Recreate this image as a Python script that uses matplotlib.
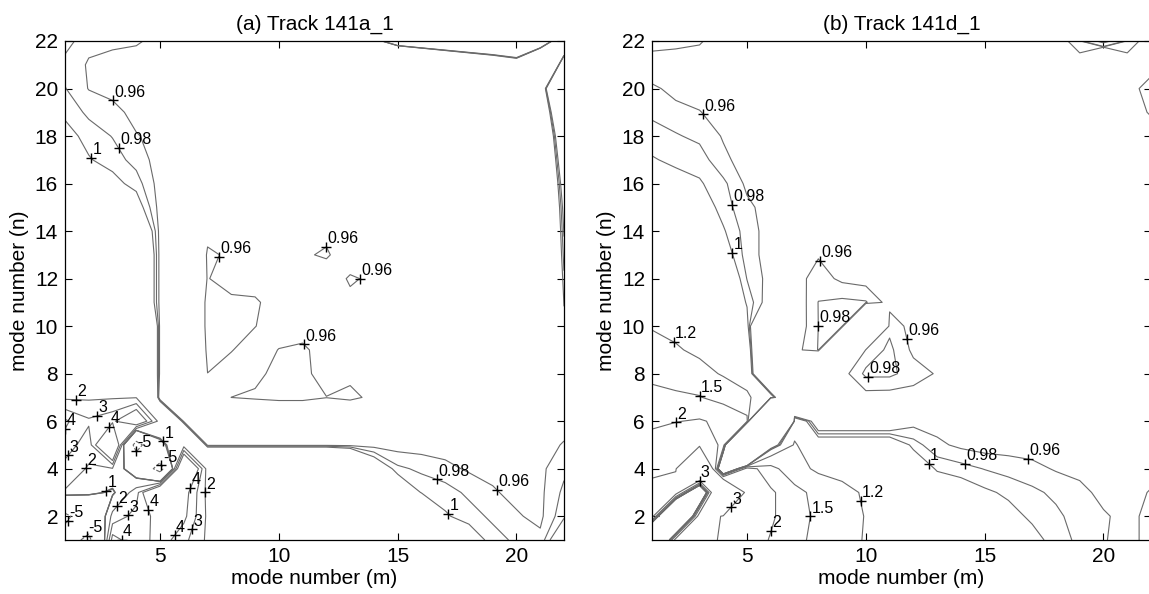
import numpy as np
import matplotlib
matplotlib.use("Agg")
import matplotlib.pyplot as plt

plt.rcParams["font.family"] = ["Liberation Sans", "DejaVu Sans"]

# ---------------------------------------------------------------- data
mode_m = np.arange(1, 23)
mode_n = np.arange(1, 23)

levels_a = [-5, 0.96, 0.98, 1, 2, 3, 4]
levels_b = [0.96, 0.98, 1, 1.2, 1.5, 2, 3]

# ratio grid, track 141a_1 : one row per n, from n = 22 (top) down to n = 1
ratio_a = [
    [0.99, 0.965, 0.963, 0.962, 0.955, 0.95, 0.95, 0.95, 0.95, 0.95, 0.95, 0.95, 0.95, 0.5, 1.9, 1.9, 1.9, 1.9, 1.9, 1.9, 1.9, 0.02],
    [0.972, 0.958, 0.955, 0.952, 0.95, 0.95, 0.95, 0.95, 0.95, 0.95, 0.95, 0.95, 0.95, 0.95, -2.8, -1.23, -0.45, 0.02, 0.33, 0.61, -1.23, 1.587],
    [0.981, 0.959, 0.955, 0.952, 0.95, 0.95, 0.95, 0.95, 0.95, 0.95, 0.95, 0.95, 0.95, 0.95, 0.95, 0.95, 0.95, 0.95, 0.95, 0.95, 0.7, 1.9],
    [0.995, 0.975, 0.965, 0.955, 0.95, 0.95, 0.95, 0.95, 0.95, 0.95, 0.95, 0.95, 0.95, 0.95, 0.95, 0.95, 0.95, 0.95, 0.95, 0.95, 0.7, 1.35],
    [1.01, 0.992, 0.979, 0.961, 0.955, 0.95, 0.95, 0.95, 0.95, 0.95, 0.95, 0.95, 0.95, 0.95, 0.95, 0.95, 0.95, 0.95, 0.95, 0.95, 0.7, 1.17],
    [1.03, 1.002, 0.99, 0.972, 0.95, 0.95, 0.95, 0.95, 0.95, 0.95, 0.95, 0.95, 0.95, 0.95, 0.95, 0.95, 0.95, 0.95, 0.95, 0.95, 0.7, 1.1],
    [1.05, 1.03, 1.01, 0.99, 0.95, 0.95, 0.95, 0.95, 0.95, 0.95, 0.95, 0.95, 0.95, 0.95, 0.95, 0.95, 0.95, 0.95, 0.95, 0.95, 0.7, 1.05],
    [1.1, 1.07, 1.05, 1.02, 0.95, 0.95, 0.95, 0.95, 0.95, 0.95, 0.95, 0.95, 0.95, 0.95, 0.95, 0.95, 0.95, 0.95, 0.95, 0.95, 0.7, 1.02],
    [1.15, 1.12, 1.1, 1.1, 0.95, 0.95, 0.956, 0.95, 0.95, 0.95, 0.95, 0.956, 0.95, 0.95, 0.95, 0.95, 0.95, 0.95, 0.95, 0.95, 0.7, 1.003],
    [1.2, 1.2, 1.2, 1.15, 0.95, 0.92, 0.962, 0.958, 0.95, 0.95, 0.958, 0.962, 0.95, 0.95, 0.95, 0.95, 0.95, 0.95, 0.95, 0.95, 0.7, 0.99],
    [1.25, 1.25, 1.2, 1.15, 0.95, 0.92, 0.961, 0.95, 0.95, 0.95, 0.95, 0.95, 0.962, 0.957, 0.95, 0.95, 0.95, 0.95, 0.95, 0.95, 0.7, 0.975],
    [1.3, 1.3, 1.25, 1.15, 0.95, 0.92, 0.965, 0.965, 0.963, 0.95, 0.95, 0.95, 0.956, 0.95, 0.95, 0.95, 0.95, 0.95, 0.95, 0.95, 0.7, 0.962],
    [1.35, 1.35, 1.3, 1.4, 0.95, 0.92, 0.965, 0.965, 0.9605, 0.95, 0.95, 0.95, 0.95, 0.95, 0.95, 0.95, 0.95, 0.95, 0.95, 0.95, 0.8, 0.95],
    [1.4, 1.4, 1.35, 1.4, 0.95, 0.92, 0.963, 0.961, 0.95, 0.9606, 0.964, 0.95, 0.95, 0.95, 0.95, 0.95, 0.95, 0.95, 0.95, 0.95, 0.95, 0.95],
    [1.5, 1.5, 1.45, 1.4, 0.95, 0.92, 0.9599, 0.95, 0.955, 0.966, 0.966, 0.95, 0.955, 0.95, 0.95, 0.95, 0.95, 0.95, 0.95, 0.95, 0.95, 0.95],
    [1.81, 1.85, 1.9, 1.95, 0.9, 0.95, 0.95, 0.9601, 0.963, 0.966, 0.966, 0.9605, 0.965, 0.955, 0.95, 0.95, 0.95, 0.95, 0.95, 0.95, 0.95, 0.95],
    [4.19, 3.16, 3.73, 6.0, 1.5, 0.95, 0.92, 0.92, 0.92, 0.92, 0.92, 0.92, 0.92, 0.92, 0.95, 0.95, 0.95, 0.95, 0.95, 0.95, 0.95, 0.95],
    [3.6, 2.4, 8.0, -7.0, 0.8, 1.5, 0.95, 0.95, 0.95, 0.95, 0.95, 0.95, 0.95, 0.95, 0.95, 0.95, 0.95, 0.95, 0.95, 0.95, 0.95, 0.962],
    [2.6, 1.9, 1.9, 0.0, -7.0, 8.0, 1.5, 1.5, 1.5, 1.5, 1.5, 1.5, 1.3, 1.05, 0.985, 0.975, 0.966, 0.957, 0.955, 0.955, 0.955, 0.975],
    [1.9, 1.3, 0.8, 2.5, 8.0, 4.6, 1.7, 1.5, 1.5, 1.5, 1.5, 1.5, 1.5, 1.5, 1.05, 0.998, 0.99, 0.975, 0.962, 0.955, 0.955, 0.985],
    [-6.0, -2.0, 2.3, 3.4, 4.4, 4.3, 1.8, 1.5, 1.5, 1.5, 1.5, 1.5, 1.5, 1.5, 1.5, 1.1, 1.003, 0.99, 0.975, 0.962, 0.955, 0.995],
    [-3.0, -6.0, 4.5, 3.2, 4.6, 3.3, 1.8, 1.5, 1.5, 1.5, 1.5, 1.5, 1.5, 1.5, 1.5, 1.5, 1.1, 1.02, 0.99, 0.975, 0.965, 1.05],
]

# ratio grid, track 141d_1 : one row per n, from n = 22 (top) down to n = 1
ratio_b = [
    [0.975, 0.965, 0.962, 0.95, 0.95, 0.95, 0.95, 0.95, 0.95, 0.95, 0.95, 0.95, 0.95, 0.95, 0.95, 0.95, 0.95, 0.95, 0.97, 1.3, 0.97, 0.95],
    [0.94, 0.95, 0.95, 0.95, 0.95, 0.95, 0.95, 0.95, 0.95, 0.95, 0.95, 0.95, 0.95, 0.95, 0.95, 0.95, 0.95, 0.95, 0.95, 0.0, 0.95, 0.95],
    [0.965, 0.952, 0.95, 0.95, 0.95, 0.95, 0.95, 0.95, 0.95, 0.95, 0.95, 0.95, 0.95, 0.95, 0.95, 0.95, 0.95, 0.95, 0.95, 0.95, 0.95, 0.97],
    [0.975, 0.968, 0.961, 0.95, 0.95, 0.95, 0.95, 0.95, 0.95, 0.95, 0.95, 0.95, 0.95, 0.95, 0.95, 0.95, 0.95, 0.95, 0.95, 0.95, 0.95, 0.962],
    [0.99, 0.982, 0.975, 0.958, 0.95, 0.95, 0.95, 0.95, 0.95, 0.95, 0.95, 0.95, 0.95, 0.95, 0.95, 0.95, 0.95, 0.95, 0.95, 0.95, 0.95, 0.95],
    [1.002, 0.995, 0.99, 0.965, 0.95, 0.95, 0.95, 0.95, 0.95, 0.95, 0.95, 0.95, 0.95, 0.95, 0.95, 0.95, 0.95, 0.95, 0.95, 0.95, 0.95, 0.95],
    [1.02, 1.01, 1.003, 0.985, 0.955, 0.95, 0.95, 0.95, 0.95, 0.95, 0.95, 0.95, 0.95, 0.95, 0.95, 0.95, 0.95, 0.95, 0.95, 0.95, 0.95, 0.95],
    [1.04, 1.03, 1.02, 0.99, 0.965, 0.95, 0.95, 0.95, 0.95, 0.95, 0.95, 0.95, 0.95, 0.95, 0.95, 0.95, 0.95, 0.95, 0.95, 0.95, 0.95, 0.95],
    [1.06, 1.05, 1.04, 1.003, 0.97, 0.95, 0.95, 0.95, 0.95, 0.95, 0.95, 0.95, 0.95, 0.95, 0.95, 0.95, 0.95, 0.95, 0.95, 0.95, 0.95, 0.95],
    [1.08, 1.07, 1.06, 1.02, 0.97, 0.95, 0.95, 0.958, 0.95, 0.95, 0.95, 0.95, 0.95, 0.95, 0.95, 0.95, 0.95, 0.95, 0.95, 0.95, 0.95, 0.95],
    [1.1, 1.09, 1.08, 1.05, 0.979, 0.95, 0.95, 0.97, 0.955, 0.95, 0.95, 0.95, 0.95, 0.95, 0.95, 0.95, 0.95, 0.95, 0.95, 0.95, 0.95, 0.95],
    [1.12, 1.11, 1.1, 1.08, 0.995, 0.94, 0.94, 0.9805, 0.985, 0.982, 0.95, 0.95, 0.95, 0.95, 0.95, 0.95, 0.95, 0.95, 0.95, 0.95, 0.95, 0.95],
    [1.18, 1.15, 1.13, 1.12, 1.02, 0.6, 0.94, 0.9801, 0.981, 0.5, 0.975, 0.95, 0.95, 0.95, 0.95, 0.95, 0.95, 0.95, 0.95, 0.95, 0.95, 0.95],
    [1.3, 1.22, 1.16, 1.12, 1.1, 0.4, 0.95, 0.981, 0.5, 0.965, 0.985, 0.955, 0.95, 0.95, 0.95, 0.95, 0.95, 0.95, 0.95, 0.95, 0.95, 0.95],
    [1.42, 1.35, 1.27, 1.18, 1.15, 0.4, 0.95, 0.5, 0.95, 0.985, 0.985, 0.97, 0.958, 0.95, 0.95, 0.95, 0.95, 0.95, 0.95, 0.95, 0.95, 0.95],
    [1.6, 1.56, 1.52, 1.35, 1.22, 1.1, 0.4, 0.95, 0.95, 0.95, 0.949, 0.95, 0.95, 0.95, 0.95, 0.95, 0.95, 0.95, 0.95, 0.95, 0.95, 0.95],
    [1.9, 1.98, 2.05, 1.88, 1.59, -8.0, 1.1, 0.9, 0.9, 0.9, 0.9, 0.95, 0.95, 0.95, 0.95, 0.95, 0.95, 0.95, 0.95, 0.95, 0.95, 0.95],
    [2.2, 2.4, 2.7, 1.8, -8.0, 0.85, 1.22, 1.05, 1.05, 1.05, 1.05, 0.99, 0.965, 0.955, 0.95, 0.95, 0.95, 0.95, 0.95, 0.95, 0.95, 0.95],
    [2.8, 2.9, 8.0, -1.0, 2.3, 1.6, 1.3, 1.15, 1.12, 1.1, 1.08, 1.04, 0.995, 0.988, 0.979, 0.972, 0.966, 0.958, 0.955, 0.95, 0.95, 0.95],
    [3.3, 3.7, -2.0, 8.0, 2.4, 2.1, 1.6, 1.4, 1.27, 1.17, 1.1, 1.06, 1.04, 1.02, 1.005, 0.995, 0.985, 0.975, 0.965, 0.955, 0.95, 0.962],
    [3.5, -6.0, 3.8, 2.9, 2.6, 2.1, 1.6, 1.45, 1.3, 1.19, 1.12, 1.08, 1.06, 1.04, 1.03, 1.01, 0.995, 0.985, 0.97, 0.962, 0.955, 0.965],
    [-6.0, 3.6, 3.3, 2.9, 2.4, 1.95, 1.55, 1.45, 1.3, 1.18, 1.12, 1.08, 1.06, 1.05, 1.04, 1.03, 1.01, 0.99, 0.975, 0.962, 0.95, 0.97],
]

titles = ["(a) Track 141a_1", "(b) Track 141d_1"]

# ---------------------------------------------------------------- layout
# (level, m, n) : where along each contour a value tag is wanted
tag_spots_a = [
    (0.96, 3.0, 19.5), (0.98, 3.3, 17.5), (1, 2.0, 17.0),
    (0.96, 7.6, 12.9), (0.96, 12.0, 13.4), (0.96, 13.5, 12.0), (0.96, 11.0, 9.2),
    (0.98, 16.7, 3.8), (0.96, 19.3, 3.2), (1, 17.0, 2.0),
    (2, 1.45, 6.75), (3, 2.4, 6.1), (4, 2.9, 5.7), (4, 1.3, 5.5),
    (-5, 3.9, 4.7), (1, 5.2, 5.2), (-5, 5.0, 4.1),
    (3, 1.5, 4.3), (2, 1.9, 4.0), (1, 2.65, 3.25),
    (4, 6.3, 3.2), (2, 6.7, 3.0), (4, 5.0, 2.4), (2, 3.5, 2.1),
    (3, 4.3, 1.55), (4, 5.4, 1.35), (3, 6.2, 1.55), (4, 3.5, 1.2),
    (-5, 1.07, 1.85), (-5, 1.9, 1.2),
]
tag_spots_b = [
    (0.96, 3.1, 18.9), (0.98, 4.0, 15.0), (1, 4.2, 13.0),
    (0.96, 8.1, 12.8), (0.98, 8.0, 10.0), (0.96, 11.9, 9.5), (0.98, 10.1, 7.85),
    (1.2, 2.0, 9.4), (1.5, 3.0, 7.2), (2, 2.0, 5.95), (3, 2.8, 3.95),
    (3, 4.05, 2.6), (2, 5.75, 1.5), (1.5, 7.4, 2.0), (1.2, 9.2, 2.5),
    (1, 12.7, 4.3), (0.98, 14.3, 4.55), (0.96, 16.8, 4.3),
]

W, H = 1149, 594
fig = plt.figure(figsize=(W / 100, H / 100), dpi=100)
ax_a = fig.add_axes([65 / W, 54 / H, 499 / W, 499 / H])
ax_b = fig.add_axes([652 / W, 54 / H, 499 / W, 499 / H])

LINE = "#6a6a6a"


def tag_levels(ax, cs, spots):
    lv = np.asarray(cs.levels, float)
    for level, sx, sy in spots:
        k = int(np.argmin(np.abs(lv - level)))
        best, bd = None, np.inf
        for seg in cs.allsegs[k]:
            if len(seg) < 2:
                continue
            t = np.linspace(0.0, 1.0, 12)[:, None]
            pts = (seg[:-1, None, :] * (1 - t) + seg[1:, None, :] * t).reshape(-1, 2)
            d = np.hypot(pts[:, 0] - sx, pts[:, 1] - sy)
            i = int(d.argmin())
            if d[i] < bd:
                bd, best = d[i], pts[i]
        if best is None:
            continue
        ax.plot(best[0], best[1], "+", color="k", ms=7, mew=1.0, zorder=4)
        ax.annotate(f"{level:g}", xy=(best[0], best[1]), xytext=(1.0, 0.5),
                    textcoords="offset points", ha="left", va="bottom",
                    fontsize=11.5, color="k", zorder=5)


def draw(ax, rows, levels, spots, title):
    z = np.array(rows, float)[::-1]
    cs = ax.contour(mode_m, mode_n, z, levels=levels, colors=LINE, linewidths=0.8)
    tag_levels(ax, cs, spots)
    ax.set_xlim(1, 22)
    ax.set_ylim(1, 22)
    ax.set_xticks([5, 10, 15, 20])
    ax.set_yticks(range(2, 23, 2))
    ax.tick_params(direction="in", top=True, right=True, length=5, width=0.8,
                   labelsize=15, pad=5)
    for sp in ax.spines.values():
        sp.set_linewidth(0.9)
    ax.set_xlabel("mode number (m)", fontsize=15, labelpad=2)
    ax.set_ylabel("mode number (n)", fontsize=15, labelpad=4)
    ax.set_title(title, fontsize=15, pad=8)


draw(ax_a, ratio_a, levels_a, tag_spots_a, titles[0])
draw(ax_b, ratio_b, levels_b, tag_spots_b, titles[1])

fig.savefig("out.png", dpi=100)
